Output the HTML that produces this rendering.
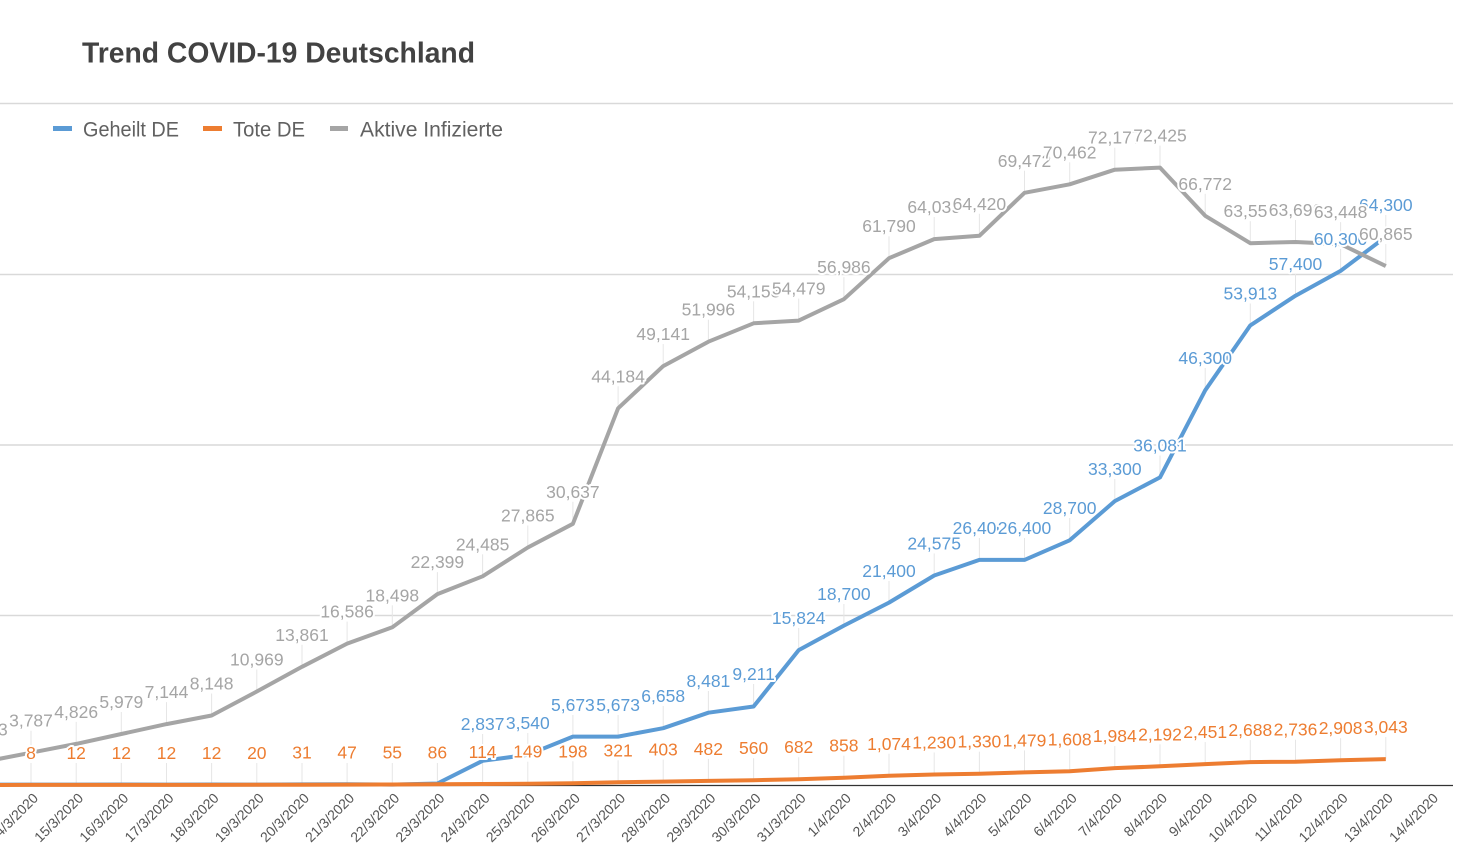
<!DOCTYPE html>
<html><head><meta charset="utf-8"><style>
html,body{margin:0;padding:0;background:#fff;}
svg{display:block;}
.t{font-family:"Liberation Sans",Arial,sans-serif;}
.lb{font-family:"Liberation Sans",Arial,sans-serif;font-size:17.5px;text-anchor:middle;stroke:#fff;stroke-width:4px;paint-order:stroke;stroke-linejoin:round;}
.b{fill:#5b9bd5;} .o{fill:#ed7d31;} .g{fill:#a5a5a5;}
.ax{font-family:"Liberation Sans",Arial,sans-serif;font-size:14px;fill:#555;text-anchor:end;}
</style></head><body>
<svg width="1469" height="868" viewBox="0 0 1469 868" xmlns="http://www.w3.org/2000/svg">
<rect width="1469" height="868" fill="#fff"/>
<text class="t" x="82" y="62.5" font-size="29" font-weight="bold" fill="#424242" textLength="393" lengthAdjust="spacingAndGlyphs">Trend COVID-19 Deutschland</text>
<!-- legend -->
<rect x="53" y="126" width="19" height="5" fill="#5b9bd5"/>
<text class="t" x="83" y="136.5" font-size="21" fill="#616161" textLength="96" lengthAdjust="spacingAndGlyphs">Geheilt DE</text>
<rect x="203" y="126" width="19" height="5" fill="#ed7d31"/>
<text class="t" x="233" y="136.5" font-size="21" fill="#616161" textLength="72" lengthAdjust="spacingAndGlyphs">Tote DE</text>
<rect x="330" y="126" width="18" height="5" fill="#a5a5a5"/>
<text class="t" x="360" y="136.5" font-size="21" fill="#616161" textLength="143" lengthAdjust="spacingAndGlyphs">Aktive Infizierte</text>
<!-- grid -->
<g stroke="#d9d9d9" stroke-width="1.4">
<line x1="0" y1="103.5" x2="1453" y2="103.5"/>
<line x1="0" y1="274.5" x2="1453" y2="274.5"/>
<line x1="0" y1="445" x2="1453" y2="445"/>
<line x1="0" y1="615.5" x2="1453" y2="615.5"/>
</g>
<!-- leader lines -->
<g stroke="#e6e6e6" stroke-width="1">
<line x1="31" y1="763" x2="31" y2="785"/><line x1="76.2" y1="763" x2="76.2" y2="785"/><line x1="121.3" y1="763" x2="121.3" y2="785"/><line x1="166.5" y1="763" x2="166.5" y2="785"/><line x1="211.6" y1="763" x2="211.6" y2="785"/><line x1="256.8" y1="763" x2="256.8" y2="785"/><line x1="302" y1="763" x2="302" y2="785"/><line x1="347.1" y1="763" x2="347.1" y2="785"/><line x1="392.3" y1="763" x2="392.3" y2="785"/><line x1="437.4" y1="763" x2="437.4" y2="785"/><line x1="482.6" y1="762" x2="482.6" y2="784"/><line x1="527.8" y1="761.7" x2="527.8" y2="783.7"/><line x1="572.9" y1="761.3" x2="572.9" y2="783.3"/><line x1="618.1" y1="760.3" x2="618.1" y2="782.3"/><line x1="663.2" y1="759.6" x2="663.2" y2="781.6"/><line x1="708.4" y1="758.9" x2="708.4" y2="780.9"/><line x1="753.6" y1="758.2" x2="753.6" y2="780.2"/><line x1="798.7" y1="757.2" x2="798.7" y2="779.2"/><line x1="843.9" y1="755.7" x2="843.9" y2="777.7"/><line x1="889" y1="753.8" x2="889" y2="775.8"/><line x1="934.2" y1="752.5" x2="934.2" y2="774.5"/><line x1="979.4" y1="751.7" x2="979.4" y2="773.7"/><line x1="1024.5" y1="750.4" x2="1024.5" y2="772.4"/><line x1="1069.7" y1="749.3" x2="1069.7" y2="771.3"/><line x1="1114.8" y1="746.1" x2="1114.8" y2="768.1"/><line x1="1160" y1="744.3" x2="1160" y2="766.3"/><line x1="1205.2" y1="742.1" x2="1205.2" y2="764.1"/><line x1="1250.3" y1="740.1" x2="1250.3" y2="762.1"/><line x1="1295.5" y1="739.7" x2="1295.5" y2="761.7"/><line x1="1340.6" y1="738.2" x2="1340.6" y2="760.2"/><line x1="1385.8" y1="737.1" x2="1385.8" y2="759.1"/>
<line x1="482.6" y1="734" x2="482.6" y2="760.8"/><line x1="527.8" y1="733" x2="527.8" y2="754.8"/><line x1="572.9" y1="715" x2="572.9" y2="736.6"/><line x1="618.1" y1="715" x2="618.1" y2="736.6"/><line x1="663.2" y1="706" x2="663.2" y2="728.2"/><line x1="708.4" y1="691" x2="708.4" y2="712.7"/><line x1="753.6" y1="684" x2="753.6" y2="706.5"/><line x1="798.7" y1="628" x2="798.7" y2="650.1"/><line x1="843.9" y1="604" x2="843.9" y2="625.6"/><line x1="889" y1="581" x2="889" y2="602.6"/><line x1="934.2" y1="553.5" x2="934.2" y2="575.5"/><line x1="979.4" y1="538" x2="979.4" y2="559.9"/><line x1="1024.5" y1="538" x2="1024.5" y2="559.9"/><line x1="1069.7" y1="518" x2="1069.7" y2="540.3"/><line x1="1114.8" y1="479" x2="1114.8" y2="501.1"/><line x1="1160" y1="455.5" x2="1160" y2="477.4"/><line x1="1205.2" y1="368" x2="1205.2" y2="390.3"/><line x1="1250.3" y1="303.5" x2="1250.3" y2="325.4"/><line x1="1295.5" y1="274" x2="1295.5" y2="295.7"/><line x1="1340.6" y1="249" x2="1340.6" y2="270.9"/><line x1="1385.8" y1="215" x2="1385.8" y2="236.8"/>
<line x1="31" y1="730.7" x2="31" y2="752.7"/><line x1="76.2" y1="721.9" x2="76.2" y2="743.9"/><line x1="121.3" y1="712" x2="121.3" y2="734"/><line x1="166.5" y1="702.1" x2="166.5" y2="724.1"/><line x1="211.6" y1="693.5" x2="211.6" y2="715.5"/><line x1="256.8" y1="669.5" x2="256.8" y2="691.5"/><line x1="302" y1="644.8" x2="302" y2="666.8"/><line x1="347.1" y1="621.6" x2="347.1" y2="643.6"/><line x1="392.3" y1="605.3" x2="392.3" y2="627.3"/><line x1="437.4" y1="572.1" x2="437.4" y2="594.1"/><line x1="482.6" y1="554.3" x2="482.6" y2="576.3"/><line x1="527.8" y1="525.5" x2="527.8" y2="547.5"/><line x1="572.9" y1="501.8" x2="572.9" y2="523.8"/><line x1="618.1" y1="386.3" x2="618.1" y2="408.3"/><line x1="663.2" y1="344.1" x2="663.2" y2="366.1"/><line x1="708.4" y1="319.7" x2="708.4" y2="341.7"/><line x1="753.6" y1="301.3" x2="753.6" y2="323.3"/><line x1="798.7" y1="298.6" x2="798.7" y2="320.6"/><line x1="843.9" y1="277.2" x2="843.9" y2="299.2"/><line x1="889" y1="236.2" x2="889" y2="258.2"/><line x1="934.2" y1="217.1" x2="934.2" y2="239.1"/><line x1="979.4" y1="213.8" x2="979.4" y2="235.8"/><line x1="1024.5" y1="170.8" x2="1024.5" y2="192.8"/><line x1="1069.7" y1="162.3" x2="1069.7" y2="184.3"/><line x1="1114.8" y1="147.7" x2="1114.8" y2="169.7"/><line x1="1160" y1="145.6" x2="1160" y2="167.6"/><line x1="1205.2" y1="193.8" x2="1205.2" y2="215.8"/><line x1="1250.3" y1="221.2" x2="1250.3" y2="243.2"/><line x1="1295.5" y1="220" x2="1295.5" y2="242"/><line x1="1340.6" y1="222.1" x2="1340.6" y2="244.1"/><line x1="1385.8" y1="244.1" x2="1385.8" y2="266.1"/>
</g>
<!-- axis -->
<line x1="0" y1="785.5" x2="1453" y2="785.5" stroke="#333" stroke-width="1.2"/>
<!-- series lines -->
<g fill="none" stroke-width="4" stroke-linejoin="round" stroke-linecap="butt">
<polyline stroke="#5b9bd5" points="-14.2,784.6 31,784.6 76.2,784.6 121.3,784.5 166.5,784.6 211.6,784.5 256.8,784.6 302,784.4 347.1,784.2 392.3,784.6 437.4,783.5 482.6,760.8 527.8,754.8 572.9,736.6 618.1,736.6 663.2,728.2 708.4,712.7 753.6,706.5 798.7,650.1 843.9,625.6 889,602.6 934.2,575.5 979.4,559.9 1024.5,559.9 1069.7,540.3 1114.8,501.1 1160,477.4 1205.2,390.3 1250.3,325.4 1295.5,295.7 1340.6,270.9 1385.8,236.8"/>
<polyline stroke="#ed7d31" points="-14.2,785 31,784.9 76.2,784.9 121.3,784.9 166.5,784.9 211.6,784.9 256.8,784.8 302,784.7 347.1,784.6 392.3,784.5 437.4,784.3 482.6,784 527.8,783.7 572.9,783.3 618.1,782.3 663.2,781.6 708.4,780.9 753.6,780.2 798.7,779.2 843.9,777.7 889,775.8 934.2,774.5 979.4,773.7 1024.5,772.4 1069.7,771.3 1114.8,768.1 1160,766.3 1205.2,764.1 1250.3,762.1 1295.5,761.7 1340.6,760.2 1385.8,759.1"/>
<polyline stroke="#a5a5a5" points="-14.2,761.4 31,752.7 76.2,743.9 121.3,734 166.5,724.1 211.6,715.5 256.8,691.5 302,666.8 347.1,643.6 392.3,627.3 437.4,594.1 482.6,576.3 527.8,547.5 572.9,523.8 618.1,408.3 663.2,366.1 708.4,341.7 753.6,323.3 798.7,320.6 843.9,299.2 889,258.2 934.2,239.1 979.4,235.8 1024.5,192.8 1069.7,184.3 1114.8,169.7 1160,167.6 1205.2,215.8 1250.3,243.2 1295.5,242 1340.6,244.1 1385.8,266.1"/>
</g>
<!-- blue labels -->
<g class="lb b">
<text x="482.6" y="730">2,837</text><text x="527.8" y="729">3,540</text><text x="572.9" y="711">5,673</text><text x="618.1" y="711">5,673</text><text x="663.2" y="702">6,658</text><text x="708.4" y="687">8,481</text><text x="753.6" y="680">9,211</text><text x="798.7" y="624">15,824</text><text x="843.9" y="600">18,700</text><text x="889" y="577">21,400</text><text x="934.2" y="549.5">24,575</text><text x="979.4" y="534">26,400</text><text x="1024.5" y="534">26,400</text><text x="1069.7" y="514">28,700</text><text x="1114.8" y="475">33,300</text><text x="1160" y="451.5">36,081</text><text x="1205.2" y="364">46,300</text><text x="1250.3" y="299.5">53,913</text><text x="1295.5" y="270">57,400</text><text x="1340.6" y="245">60,300</text><text x="1385.8" y="211">64,300</text>
</g>
<!-- orange labels -->
<g class="lb o">
<text x="31" y="759">8</text><text x="76.2" y="759">12</text><text x="121.3" y="759">12</text><text x="166.5" y="759">12</text><text x="211.6" y="759">12</text><text x="256.8" y="759">20</text><text x="302" y="758.7">31</text><text x="347.1" y="758.6">47</text><text x="392.3" y="758.5">55</text><text x="437.4" y="758.3">86</text><text x="482.6" y="758">114</text><text x="527.8" y="757.7">149</text><text x="572.9" y="757.3">198</text><text x="618.1" y="756.3">321</text><text x="663.2" y="755.6">403</text><text x="708.4" y="754.9">482</text><text x="753.6" y="754.2">560</text><text x="798.7" y="753.2">682</text><text x="843.9" y="751.7">858</text><text x="889" y="749.8">1,074</text><text x="934.2" y="748.5">1,230</text><text x="979.4" y="747.7">1,330</text><text x="1024.5" y="746.4">1,479</text><text x="1069.7" y="745.3">1,608</text><text x="1114.8" y="742.1">1,984</text><text x="1160" y="740.3">2,192</text><text x="1205.2" y="738.1">2,451</text><text x="1250.3" y="736.1">2,688</text><text x="1295.5" y="735.7">2,736</text><text x="1340.6" y="734.2">2,908</text><text x="1385.8" y="733.1">3,043</text>
</g>
<!-- gray labels -->
<g class="lb g">
<text x="-14.2" y="735.4">2,773</text><text x="31" y="726.7">3,787</text><text x="76.2" y="717.9">4,826</text><text x="121.3" y="708">5,979</text><text x="166.5" y="698.1">7,144</text><text x="211.6" y="689.5">8,148</text><text x="256.8" y="665.5">10,969</text><text x="302" y="640.8">13,861</text><text x="347.1" y="617.6">16,586</text><text x="392.3" y="601.3">18,498</text><text x="437.4" y="568.1">22,399</text><text x="482.6" y="550.3">24,485</text><text x="527.8" y="521.5">27,865</text><text x="572.9" y="497.8">30,637</text><text x="618.1" y="382.3">44,184</text><text x="663.2" y="340.1">49,141</text><text x="708.4" y="315.7">51,996</text><text x="753.6" y="297.3">54,153</text><text x="798.7" y="294.6">54,479</text><text x="843.9" y="273.2">56,986</text><text x="889" y="232.2">61,790</text><text x="934.2" y="213.1">64,039</text><text x="979.4" y="209.8">64,420</text><text x="1024.5" y="166.8">69,472</text><text x="1069.7" y="158.3">70,462</text><text x="1114.8" y="143.7">72,177</text><text x="1160" y="141.6">72,425</text><text x="1205.2" y="189.8">66,772</text><text x="1250.3" y="217.2">63,556</text><text x="1295.5" y="216">63,696</text><text x="1340.6" y="218.1">63,448</text><text x="1385.8" y="240.1">60,865</text>
</g>
<!-- x axis labels -->
<g class="ax">
<text transform="translate(39,799) rotate(-45)">14/3/2020</text>
<text transform="translate(84.2,799) rotate(-45)">15/3/2020</text>
<text transform="translate(129.3,799) rotate(-45)">16/3/2020</text>
<text transform="translate(174.5,799) rotate(-45)">17/3/2020</text>
<text transform="translate(219.6,799) rotate(-45)">18/3/2020</text>
<text transform="translate(264.8,799) rotate(-45)">19/3/2020</text>
<text transform="translate(310,799) rotate(-45)">20/3/2020</text>
<text transform="translate(355.1,799) rotate(-45)">21/3/2020</text>
<text transform="translate(400.3,799) rotate(-45)">22/3/2020</text>
<text transform="translate(445.4,799) rotate(-45)">23/3/2020</text>
<text transform="translate(490.6,799) rotate(-45)">24/3/2020</text>
<text transform="translate(535.8,799) rotate(-45)">25/3/2020</text>
<text transform="translate(580.9,799) rotate(-45)">26/3/2020</text>
<text transform="translate(626.1,799) rotate(-45)">27/3/2020</text>
<text transform="translate(671.2,799) rotate(-45)">28/3/2020</text>
<text transform="translate(716.4,799) rotate(-45)">29/3/2020</text>
<text transform="translate(761.6,799) rotate(-45)">30/3/2020</text>
<text transform="translate(806.7,799) rotate(-45)">31/3/2020</text>
<text transform="translate(851.9,799) rotate(-45)">1/4/2020</text>
<text transform="translate(897,799) rotate(-45)">2/4/2020</text>
<text transform="translate(942.2,799) rotate(-45)">3/4/2020</text>
<text transform="translate(987.4,799) rotate(-45)">4/4/2020</text>
<text transform="translate(1032.5,799) rotate(-45)">5/4/2020</text>
<text transform="translate(1077.7,799) rotate(-45)">6/4/2020</text>
<text transform="translate(1122.8,799) rotate(-45)">7/4/2020</text>
<text transform="translate(1168,799) rotate(-45)">8/4/2020</text>
<text transform="translate(1213.2,799) rotate(-45)">9/4/2020</text>
<text transform="translate(1258.3,799) rotate(-45)">10/4/2020</text>
<text transform="translate(1303.5,799) rotate(-45)">11/4/2020</text>
<text transform="translate(1348.6,799) rotate(-45)">12/4/2020</text>
<text transform="translate(1393.8,799) rotate(-45)">13/4/2020</text>
<text transform="translate(1439,799) rotate(-45)">14/4/2020</text>
</g>
</svg>
</body></html>
